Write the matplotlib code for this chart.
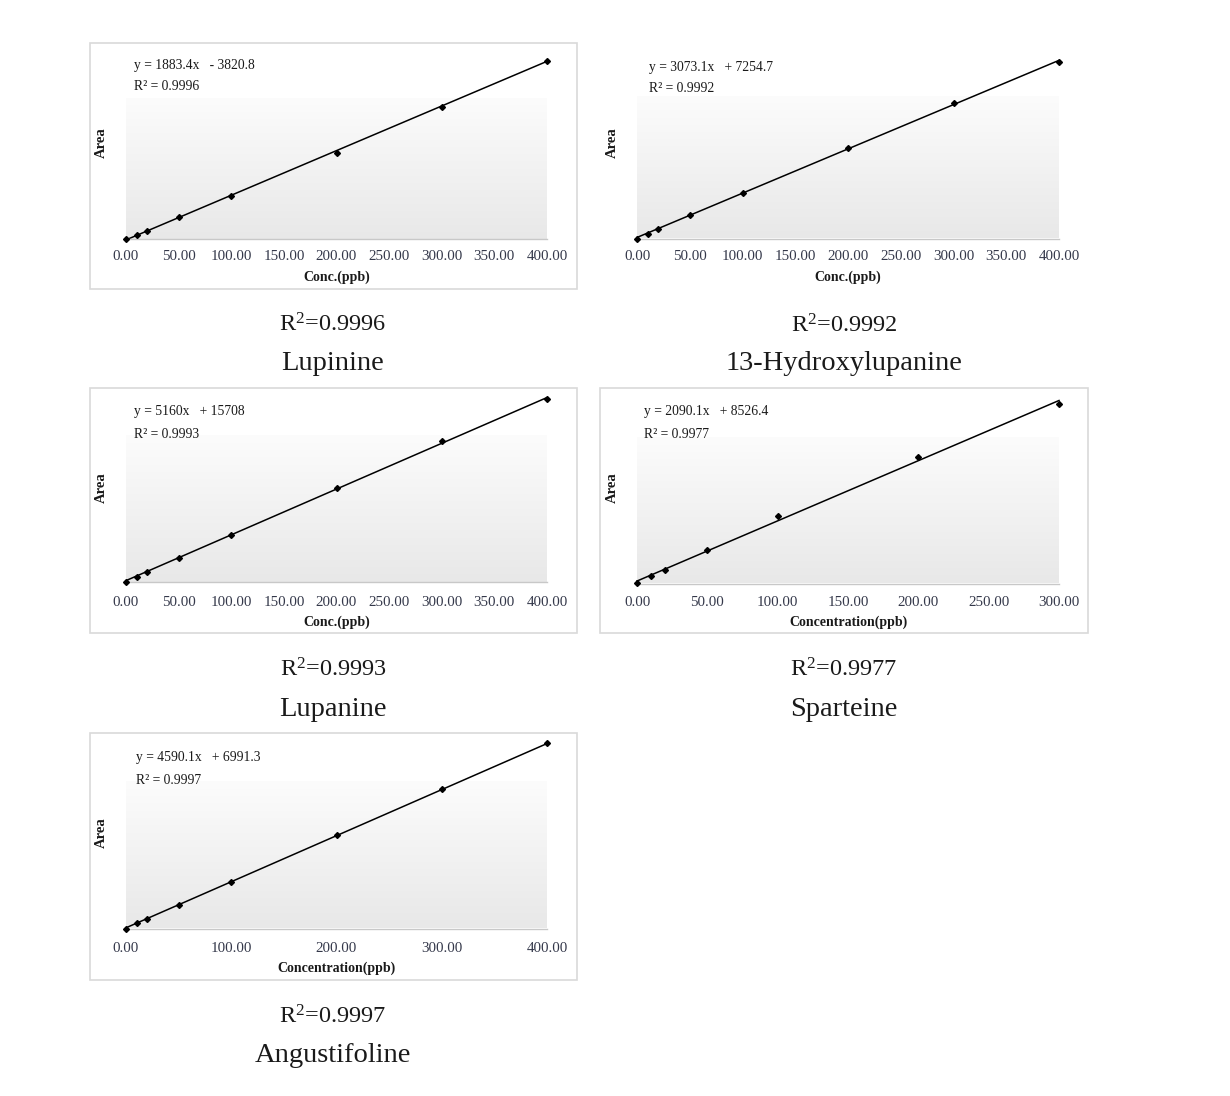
import numpy as np
import matplotlib
matplotlib.use("Agg")
import matplotlib.pyplot as plt
from matplotlib.patches import Rectangle

plt.rcParams["mathtext.fontset"] = "custom"
plt.rcParams["mathtext.rm"] = "Liberation Serif"
plt.rcParams["mathtext.it"] = "Liberation Serif:italic"
plt.rcParams["mathtext.bf"] = "Liberation Serif:bold"

W, H = 1230, 1096

# ---------------- data ----------------
names = ["Lupinine", "13-Hydroxylupanine", "Lupanine", "Sparteine", "Angustifoline"]
r2_values = ["0.9996", "0.9992", "0.9993", "0.9977", "0.9997"]
slopes = [1883.4, 3073.1, 5160.0, 2090.1, 4590.1]
intercepts = [-3820.8, 7254.7, 15708.0, 8526.4, 6991.3]
eq_texts = ["y = 1883.4x   - 3820.8", "y = 3073.1x   + 7254.7", "y = 5160x   + 15708",
            "y = 2090.1x   + 8526.4", "y = 4590.1x   + 6991.3"]

conc_400 = [0, 10, 20, 50, 100, 200, 300, 400]
conc_300 = [0, 10, 20, 50, 100, 200, 300]

area_lupinine = [0, 16000, 35000, 91000, 183000, 362000, 558000, 752000]
area_hydroxy = [0, 33000, 66000, 162000, 318000, 628000, 940000, 1222000]
area_lupanine = [0, 58000, 108000, 272000, 528000, 1060000, 1585000, 2060000]
area_sparteine = [3000, 25000, 48000, 118000, 236000, 440000, 625000]
area_angusti = [0, 50000, 96000, 238000, 468000, 935000, 1388000, 1845000]

xs = [conc_400, conc_400, conc_400, conc_300, conc_400]
ys = [area_lupinine, area_hydroxy, area_lupanine, area_sparteine, area_angusti]

ticks_fine = ["0.00", "50.00", "100.00", "150.00", "200.00", "250.00", "300.00", "350.00", "400.00"]
ticks_300 = ["0.00", "50.00", "100.00", "150.00", "200.00", "250.00", "300.00"]
ticks_coarse = ["0.00", "100.00", "200.00", "300.00", "400.00"]
tick_sets = [ticks_fine, ticks_fine, ticks_fine, ticks_300, ticks_coarse]
xlabels = ["Conc.(ppb)", "Conc.(ppb)", "Conc.(ppb)", "Concentration(ppb)", "Concentration(ppb)"]
xmax = [400, 400, 400, 300, 400]

# ---------------- layout (pixels) ----------------
plot_rects = [(126, 547, 56, 239), (637, 1059, 55, 238.5), (126, 547, 392, 582),
              (637, 1059, 395, 583.5), (126, 547, 738, 928.5)]
frames = [(90, 577, 43, 289), None, (90, 577, 388, 633), (600, 1088, 388, 633), (90, 577, 733, 980)]
eq_pos = [(134, 66, 86), (649, 67, 88), (134, 412, 435), (644, 411, 434), (136, 757, 780)]
area_pos = [(101, 143), (612, 143), (101, 488), (612, 488), (101, 833)]
tick_y = [257, 257, 602, 602, 948]
xlab_y = [277, 277, 622, 622, 968]
cap_pos = [(333, 325, 364), (844, 326, 364), (333, 670, 710), (844, 670, 710), (333, 1017, 1055)]

fig = plt.figure(figsize=(W / 100, H / 100), dpi=100)
fig.patch.set_facecolor("white")

def fx(px):
    return px / W

def fy(py):
    return 1 - py / H

serif = "Liberation Serif"
tick_color = "#34384a"

for fr in frames:
    if fr is None:
        continue
    l, r, t, b = fr
    fig.patches.append(Rectangle((fx(l), fy(b)), fx(r) - fx(l), fy(t) - fy(b),
                                 transform=fig.transFigure, fill=False,
                                 edgecolor="#d9d9d9", lw=1.2, zorder=0))

grad = np.linspace(0, 1, 256).reshape(-1, 1)
cmap = matplotlib.colors.LinearSegmentedColormap.from_list("g", ["#e8e8e8", "#fcfcfc"])

for i in range(5):
    l, r, t, b = plot_rects[i]
    ax = fig.add_axes([fx(l), fy(b), fx(r) - fx(l), fy(t) - fy(b)])
    ax.set_facecolor("white")
    line_max = slopes[i] * xmax[i] + intercepts[i]
    ax.set_xlim(0, xmax[i])
    ax.set_ylim(0, line_max * 1.03)
    gfrac = 0.77
    ax.imshow(grad, cmap=cmap, aspect="auto", origin="lower",
              extent=(0, 1, 0, gfrac), transform=ax.transAxes, zorder=0)
    xl = np.array([0, xmax[i]], dtype=float)
    ax.plot(xl, slopes[i] * xl + intercepts[i], color="black", lw=1.1, zorder=2, clip_on=False)
    ax.plot(xs[i], ys[i], "D", color="black", ms=3.0, zorder=3, clip_on=False)
    for s in ["top", "right", "left"]:
        ax.spines[s].set_visible(False)
    ax.spines["bottom"].set_color("#c8c8c8")
    ax.spines["bottom"].set_linewidth(1.0)
    ax.set_yticks([])
    ax.set_xticks([])
    ticks = tick_sets[i]
    tvals = [float(s) for s in ticks]
    for tv, tl in zip(tvals, ticks):
        xpix = l + (r - l) * tv / xmax[i]
        fig.text(fx(xpix), fy(tick_y[i]), tl, ha="center", va="center",
                 fontsize=10.8, family=serif, color=tick_color)
    fig.text(fx((l + r) / 2), fy(xlab_y[i]), xlabels[i], ha="center", va="center",
             fontsize=10, family=serif, fontweight="bold", color="#1a1a1a")
    ax_x, ax_y = area_pos[i]
    fig.text(fx(ax_x), fy(ax_y), "Area", ha="center", va="center", rotation=90,
             fontsize=10.5, family=serif, fontweight="bold", color="#1a1a1a")
    ex, ey1, ey2 = eq_pos[i]
    fig.text(fx(ex), fy(ey1), eq_texts[i], ha="left", va="center",
             fontsize=9.8, family=serif, color="#1a1a1a")
    fig.text(fx(ex), fy(ey2), "R² = " + r2_values[i], ha="left", va="center",
             fontsize=9.8, family=serif, color="#1a1a1a")
    cx, cy1, cy2 = cap_pos[i]
    fig.text(fx(cx), fy(cy1), r"R$^{2}$=" + r2_values[i], ha="center", va="center",
             fontsize=17.5, family=serif, color="#1a1a1a")
    fig.text(fx(cx), fy(cy2), names[i], ha="center", va="center",
             fontsize=20.5, family=serif, color="#1a1a1a")

fig.savefig("out.png", dpi=100, facecolor="white")
